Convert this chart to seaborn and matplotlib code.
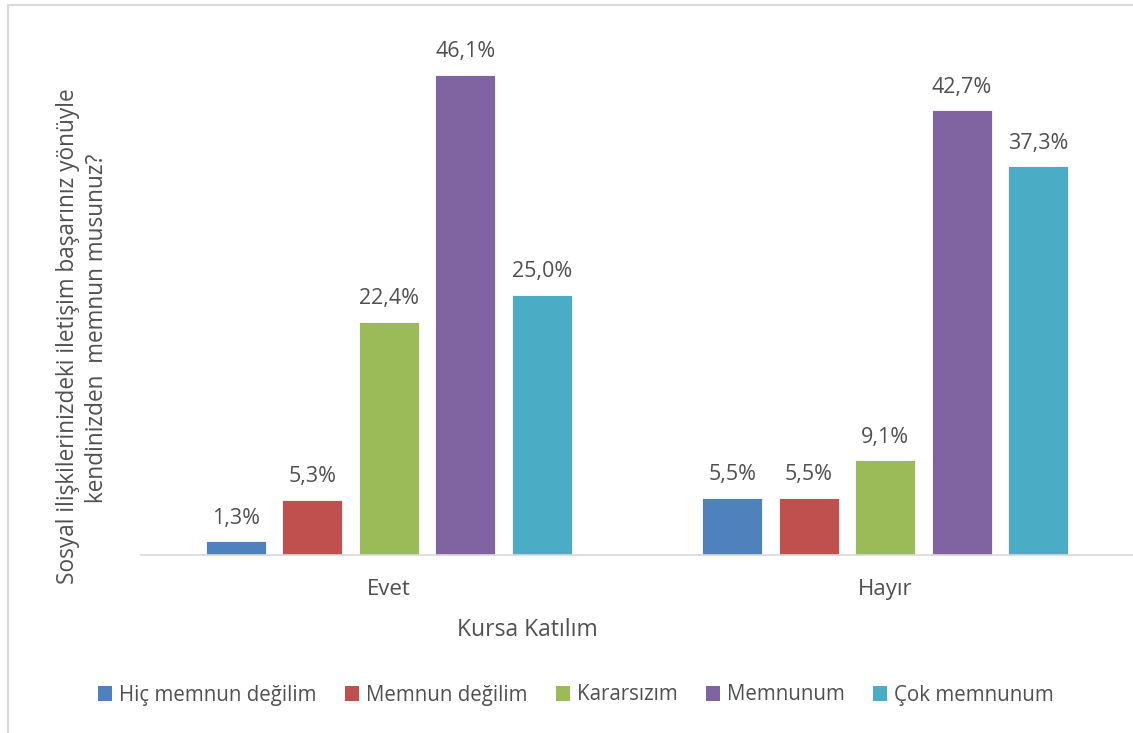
import matplotlib
matplotlib.use("Agg")
import matplotlib.pyplot as plt
import matplotlib.patches as mpatches
import seaborn as sns
import pandas as pd

groups = ["Evet", "Hayır"]
categories = ["Hiç memnun değilim", "Memnun değilim", "Kararsızım", "Memnunum", "Çok memnunum"]
evet_values = [1.3, 5.3, 22.4, 46.1, 25.0]
hayir_values = [5.5, 5.5, 9.1, 42.7, 37.3]
colors = ["#4F81BD", "#C0504D", "#9BBB59", "#8064A2", "#4BACC6"]
xlabel = "Kursa Katılım"
ylabel_lines = ["Sosyal ilişkilerinizdeki iletişim başarınız yönüyle",
                "kendinizden  memnun musunuz?"]

rows = []
for g, vals in zip(groups, [evet_values, hayir_values]):
    for c, v in zip(categories, vals):
        rows.append({"grup": g, "kat": c, "deger": v})
df = pd.DataFrame(rows)

sns.set_style("white")
plt.rcParams["font.family"] = ["Open Sans", "DejaVu Sans"]
text_color = "#505050"

fig = plt.figure(figsize=(11.33, 7.33), dpi=100)
ax = fig.add_axes([140.5 / 1133, (733 - 555) / 733, 993 / 1133, 521 / 733])

sns.barplot(data=df, x="grup", y="deger", hue="kat", order=groups, hue_order=categories,
            palette=colors, width=0.77, gap=0.216, ax=ax, legend=False,
            edgecolor="white", linewidth=0.6, errorbar=None, saturation=1)

ax.set_ylim(0, 50)
ax.set_xlim(-0.5, 1.5)
ax.set_yticks([])
ax.set_xlabel("")
ax.set_ylabel("")
for s in ["top", "right", "left"]:
    ax.spines[s].set_visible(False)
ax.spines["bottom"].set_color("#d9d9d9")
ax.spines["bottom"].set_linewidth(1.2)
ax.tick_params(axis="x", length=0, pad=17, labelsize=16, labelcolor=text_color)

for cont in ax.containers:
    labels = [f"{b.get_height():.1f}".replace(".", ",") + "%" for b in cont]
    ax.bar_label(cont, labels=labels, padding=9, fontsize=15.5, color=text_color)

fig.text(527 / 1133, (733 - 630) / 733, xlabel, ha="center", va="center",
         fontsize=16.5, color=text_color)
fig.text(68 / 1133, (733 - 336) / 733, ylabel_lines[0], ha="center", va="center",
         rotation=90, fontsize=16.3, color=text_color)
fig.text(97 / 1133, (733 - 328) / 733, ylabel_lines[1], ha="center", va="center",
         rotation=90, fontsize=16.3, color=text_color)

handles = [mpatches.Patch(facecolor=c, edgecolor="none") for c in colors]
fig.legend(handles, categories, loc="center", bbox_to_anchor=(576 / 1133, (733 - 695) / 733),
           ncol=5, frameon=False, fontsize=14.8, labelcolor=text_color,
           handlelength=0.7, handleheight=0.7, handletextpad=0.35, columnspacing=1.35)

fig.add_artist(mpatches.Rectangle((8 / 1133, -0.1), 1.2, (733 - 5) / 733 + 0.1,
                                  transform=fig.transFigure, facecolor="none",
                                  edgecolor="#d9d9d9", linewidth=1.5))

fig.savefig("out.png", dpi=100)
